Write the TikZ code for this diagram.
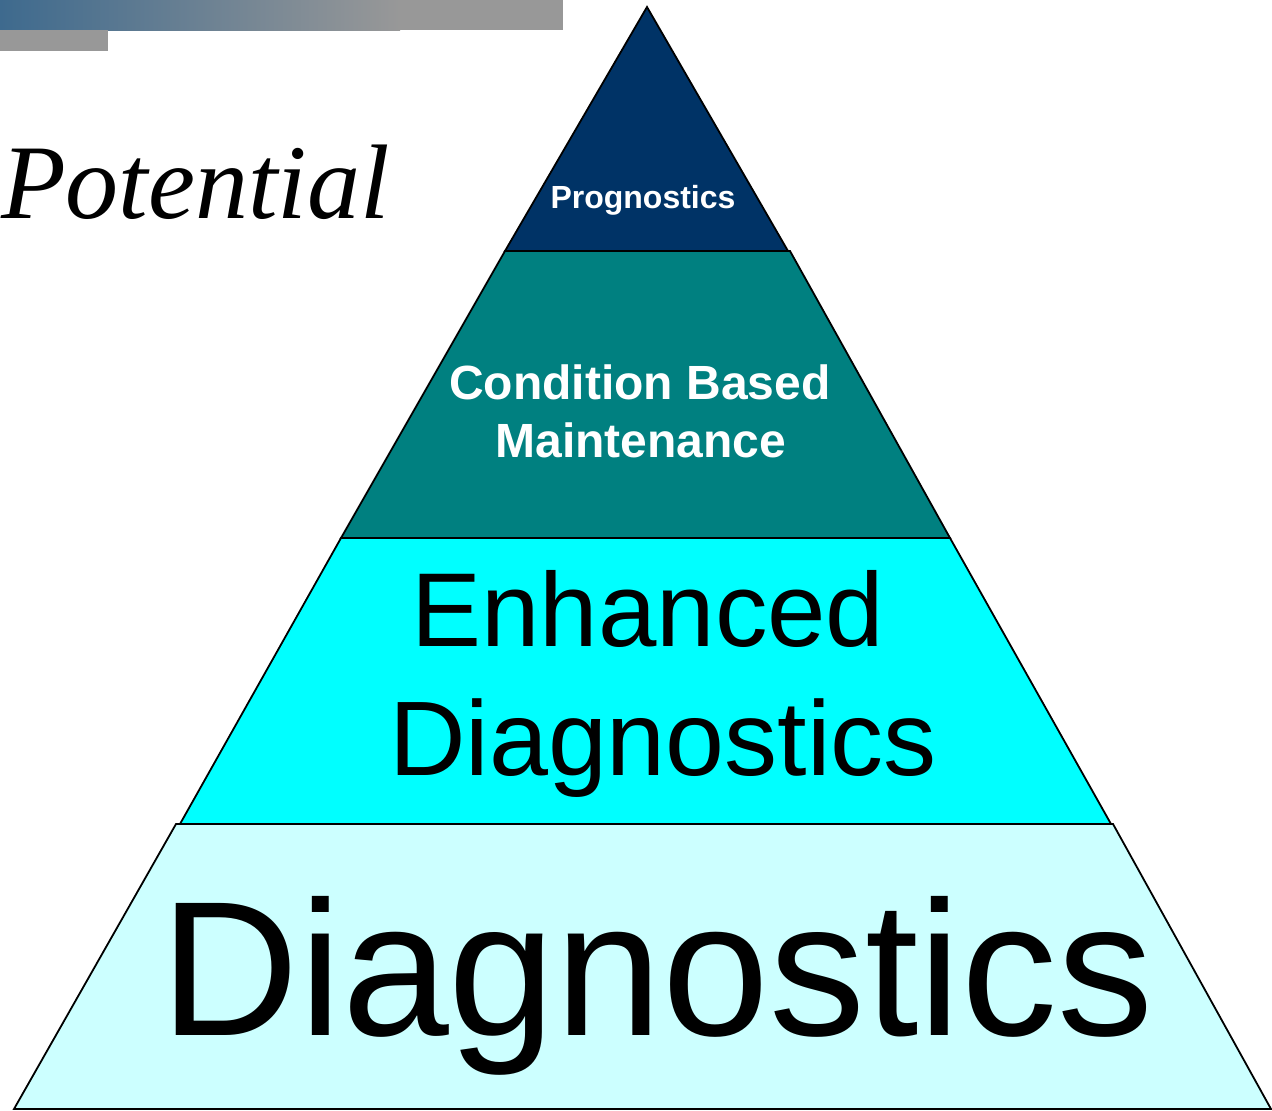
\documentclass[tikz,border=0pt]{standalone}
\usepackage{fontspec}
\newfontfamily\arialf{Liberation Sans}
\newfontfamily\timesf{Liberation Serif}
\definecolor{prog}{RGB}{0,51,102}
\definecolor{cbm}{RGB}{0,128,128}
\definecolor{enh}{RGB}{0,255,255}
\definecolor{diag}{RGB}{204,255,255}
\definecolor{barblue}{RGB}{62,106,142}
\definecolor{bargray}{RGB}{152,152,152}
\tikzset{
  layer/.style={draw=black, line width=1.8pt, line join=miter},
  lbl/.style={inner sep=0pt, anchor=base},
}
\begin{document}
\begin{tikzpicture}[x=1pt,y=-1pt]
\useasboundingbox (0,0) rectangle (1272,1111);
% top bars
\shade[left color=barblue, right color=bargray] (0,0) rectangle (400,30);
\fill[bargray] (399,0) rectangle (563,30);
\fill[bargray] (0,29.5) rectangle (108,51);
% pyramid layers
\path[layer, fill=diag] (176,824) -- (1113,824) -- (1271,1109) -- (14,1109) -- cycle;
\path[layer, fill=enh] (341,538) -- (950,538) -- (1111,824) -- (180,824) -- cycle;
\path[layer, fill=cbm] (505,251) -- (790,251) -- (950,538) -- (341,538) -- cycle;
\path[layer, fill=prog] (647,7) -- (788,251) -- (505,251) -- cycle;
% texts
\node[lbl, anchor=base west] (pot) at (1,218) {\timesf\itshape\fontsize{106}{120}\selectfont Potential};
\node[lbl, text=white] (prog) at (643,208) {\arialf\bfseries\fontsize{32}{38}\selectfont Prognostics};
\node[lbl, text=white] (cbm1) at (640,399) {\arialf\bfseries\fontsize{48}{56}\selectfont Condition Based};
\node[lbl, text=white] (cbm2) at (641,457) {\arialf\bfseries\fontsize{48}{56}\selectfont Maintenance};
\node[lbl] (enh1) at (648,646) {\arialf\fontsize{105}{120}\selectfont Enhanced};
\node[lbl] (enh2) at (663,775) {\arialf\fontsize{106}{120}\selectfont Diagnostics};
\node[lbl] (diag) at (657,1035) {\arialf\fontsize{192}{220}\selectfont Diagnostics};
\end{tikzpicture}
\end{document}
